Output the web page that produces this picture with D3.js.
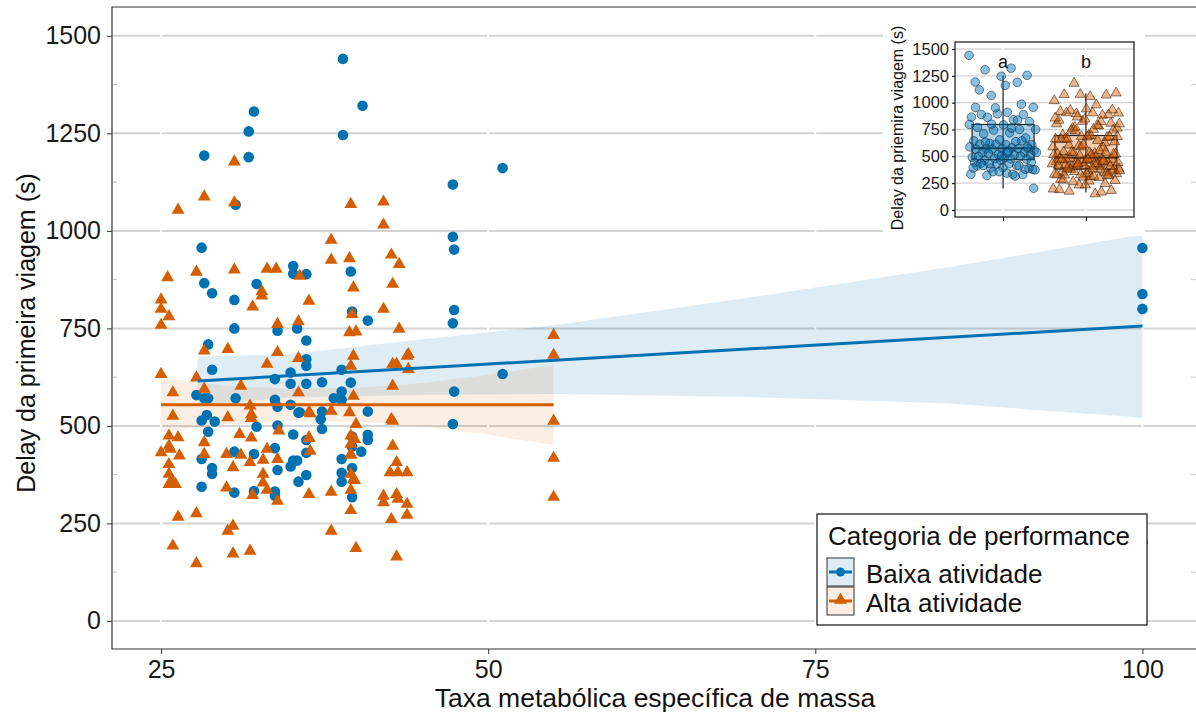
<!DOCTYPE html>
<html><head><meta charset="utf-8">
<script src="https://cdn.jsdelivr.net/npm/d3@7"></script>
<style>body{margin:0;background:#fff}svg{display:block;font-family:"Liberation Sans",Arial,sans-serif}</style>
</head><body><svg id="c" width="1196" height="713"></svg>
<script>
// ---------- data ----------
const xTicks = [25, 50, 75, 100];
const yTicks = [0, 250, 500, 750, 1000, 1250, 1500];
const yMinor = [125, 375, 625, 875, 1125, 1375];
const insetTicks = [0, 250, 500, 750, 1000, 1250, 1500];
const categories = ["Baixa atividade", "Alta atividade"];
const insetCats = ["Baixa", "Alta"];

const baixaX = [38.9,40.4,32.1,31.7,38.9,28.3,31.7,30.7,28.1,35.1,35.1,36.1,39.5,28.3,28.9,32.3,30.6,39.6,40.8,30.6,33.9,35.4,36.1,28.6,36.1,36.1,28.9,34.9,33.7,34.9,36.1,37.3,38.8,39.5,38.8,27.7,28.3,28.6,30.7,33.7,38.2,38.8,34.9,33.9,35.5,37.3,37.2,37.3,28.1,28.5,29.1,28.6,32.3,33.9,35.1,40.8,40.8,40.8,39.6,36.1,33.7,28.1,28.9,28.9,28.1,30.6,30.6,32.1,32.1,33.7,33.7,33.9,34.9,35.1,35.4,35.5,36.1,36.1,38.8,38.8,38.8,39.6,39.6,40.3,39.6,51.1,47.3,47.3,47.4,47.4,47.3,51.1,47.4,47.3,100,100,100,100,35.6];
const baixaY = [1441,1321,1306,1255,1246,1193,1189,1067,957,910,890,889,896,866,840,864,823,793,770,750,744,750,719,709,671,654,644,637,620,608,608,612,644,611,588,579,571,571,571,567,571,567,554,549,534,537,517,492,514,528,511,485,498,501,478,537,477,464,473,464,443,415,392,377,344,434,329,428,333,332,321,387,396,411,411,357,374,431,415,380,357,392,317,434,447,1161,1119,985,952,797,763,633,588,505,956,838,800,203,535];

const altaX = [30.6,28.3,26.3,30.6,39.5,42,42,38,38,39.4,42.6,43.2,25.5,27.7,30.6,33.1,33.8,35.6,25,25,25.6,25,25,28.3,30.1,27.7,28.3,25.9,25.9,31.1,32,32.7,32.7,36.3,35.5,33.9,33.9,33.1,35.5,35.5,39.7,39.6,39.4,39.9,39.7,39.5,39.7,42.7,42,43.2,42.7,43.8,42.7,30.1,31.8,31.9,31.9,36.4,38,39.4,39.9,42.7,34,31,31.9,28.3,25.6,26.3,25,25.7,39.5,36.3,36.4,33.1,25.6,26.4,25.6,25.6,25.8,25.6,26.1,28.3,30,31.1,30.5,31.8,32.8,33.9,32.8,32.8,33.1,33.9,32,30,36.3,38,39.5,39.5,39.8,39.5,39.5,42.7,43,42.5,43.1,43.8,42,42,43,43.8,42.6,43.8,26.3,27.7,30.5,30.1,25.9,27.7,30.5,31.8,38,39.9,43,55,55,55,55,55,43.9,43,43.9,36.3,42.6,36.3,39.8,39.5,39.5,39.7,43.1];
const altaY = [1180,1090,1056,1075,1071,1077,1018,979,928,932,941,917,883,897,903,905,905,887,826,802,783,761,635,695,699,626,597,588,528,605,808,847,836,823,770,763,691,661,676,588,857,789,742,744,682,656,579,866,802,751,661,682,605,524,554,532,522,534,541,537,507,515,490,481,472,460,477,473,434,443,477,473,438,443,451,426,404,379,362,353,353,430,430,428,396,409,415,417,379,357,338,310,325,344,327,333,430,379,363,338,286,451,409,383,383,383,323,306,327,302,263,274,269,278,246,233,195,150,175,182,233,189,167,735,684,515,420,320,686,661,648,538,519,471,468,456,428,366,315];

// fitted regression lines and confidence bands
const baixaFitX = [27.8, 100];
const baixaFitY = [615, 756];
const baixaBandX = [27.8, 35, 45, 55, 70, 85, 100];
const baixaBandLo = [553, 573, 579, 582, 574, 558, 521];
const baixaBandHi = [677, 685, 722, 758, 829, 906, 991];
const altaFitX = [25, 55];
const altaFitY = [554, 554];
const altaBandX = [25, 30, 35, 40, 45, 50, 55];
const altaBandLo = [485, 505, 513, 510, 498, 477, 451];
const altaBandHi = [623, 603, 595, 598, 610, 631, 657];

// inset box statistics [min, q1, median, q3, max]
const baixaBox = [200, 469, 575, 797, 1250];
const altaBox = [163, 381, 487, 694, 1087];
const insetLetters = ["a", "b"];

// ---------- drawing ----------
const BLUE = "#0072B2", ORANGE = "#D55E00";
const FONT = "Liberation Sans, Arial, sans-serif";
const svg = d3.select("#c");
const x = d3.scaleLinear().domain([21.25, 104.4]).range([112, 1200]);
const y = d3.scaleLinear().domain([-72, 1574]).range([649, 7]);

const gGrid = svg.append("g");
gGrid.selectAll("line.h").data(yTicks).join("line")
  .attr("x1", 112).attr("x2", 1196).attr("y1", d => y(d)).attr("y2", d => y(d))
  .attr("stroke", "#d4d4d4").attr("stroke-width", 2);
gGrid.selectAll("line.mn").data(yMinor).join("line")
  .attr("x1", 113).attr("x2", 117).attr("y1", d => y(d)).attr("y2", d => y(d))
  .attr("stroke", "#bbb").attr("stroke-width", 1);
gGrid.selectAll("line.mr").data(yMinor).join("line")
  .attr("x1", 1191).attr("x2", 1196).attr("y1", d => y(d)).attr("y2", d => y(d))
  .attr("stroke", "#ccc").attr("stroke-width", 1);

// panel border (left, top, bottom)
svg.append("path").attr("d", `M1196,${y.range()[1]}H112V${y.range()[0]}H1196`)
  .attr("fill", "none").attr("stroke", "#333").attr("stroke-width", 1.2);
// white vertical major grid lines
gGrid.selectAll("line.v").data(xTicks).join("line")
  .attr("x1", d => x(d)).attr("x2", d => x(d)).attr("y1", 6).attr("y2", 650)
  .attr("stroke", "#fff").attr("stroke-width", 2);

// ribbons
function band(X, lo, hi) {
  return d3.area().x((d, i) => x(X[i])).y0((d, i) => y(lo[i])).y1((d, i) => y(hi[i]))(X);
}
svg.append("path").attr("d", band(baixaBandX, baixaBandLo, baixaBandHi)).attr("fill", BLUE).attr("fill-opacity", 0.13);
svg.append("path").attr("d", band(altaBandX, altaBandLo, altaBandHi)).attr("fill", ORANGE).attr("fill-opacity", 0.1);

// points
const tri = d3.symbol().type(d3.symbolTriangle).size(72);
svg.append("g").selectAll("circle").data(baixaX).join("circle")
  .attr("cx", d => x(d)).attr("cy", (d, i) => y(baixaY[i])).attr("r", 5.3).attr("fill", BLUE);
svg.append("g").selectAll("path").data(altaX).join("path")
  .attr("d", tri).attr("transform", (d, i) => `translate(${x(d)},${y(altaY[i]) + 1})`).attr("fill", ORANGE);

// fit lines
const ln = d3.line();
svg.append("path").attr("d", ln(baixaFitX.map((v, i) => [x(v), y(baixaFitY[i])])))
  .attr("stroke", BLUE).attr("stroke-width", 3).attr("fill", "none");
svg.append("path").attr("d", ln(altaFitX.map((v, i) => [x(v), y(altaFitY[i])])))
  .attr("stroke", ORANGE).attr("stroke-width", 3).attr("fill", "none");

// axes
const fmt = d3.format("d");
const xAx = svg.append("g").attr("transform", `translate(0,649)`)
  .call(d3.axisBottom(x).tickValues(xTicks).tickFormat(fmt).tickSize(5).tickPadding(6));
const yAx = svg.append("g").attr("transform", `translate(112,0)`)
  .call(d3.axisLeft(y).tickValues(yTicks).tickFormat(fmt).tickSize(5).tickPadding(6));
[xAx, yAx].forEach(a => {
  a.select(".domain").remove();
  a.selectAll(".tick line").attr("stroke", "#333");
  a.selectAll("text").attr("font-size", 25).attr("fill", "#1a1a1a").attr("font-family", FONT);
});

svg.append("text").attr("x", 655).attr("y", 707).attr("text-anchor", "middle")
  .attr("font-size", 26.5).attr("fill", "#111").text("Taxa metabólica específica de massa");
svg.append("text").attr("transform", "translate(35,333) rotate(-90)").attr("text-anchor", "middle")
  .attr("font-size", 25).attr("fill", "#111").text("Delay da primeira viagem (s)");

// legend
const lg = svg.append("g");
lg.append("rect").attr("x", 817).attr("y", 514).attr("width", 330).attr("height", 111)
  .attr("fill", "#fff").attr("stroke", "#111").attr("stroke-width", 1.2);
lg.append("text").attr("x", 828).attr("y", 545).attr("font-size", 26).attr("fill", "#111").text("Categoria de performance");
categories.forEach((c, i) => {
  const ky = 558 + i * 29;
  const col = i === 0 ? BLUE : ORANGE;
  lg.append("rect").attr("x", 827).attr("y", ky).attr("width", 27).attr("height", 28)
    .attr("fill", col).attr("fill-opacity", i === 0 ? 0.13 : 0.1);
  lg.append("rect").attr("x", 827).attr("y", ky).attr("width", 27).attr("height", 28)
    .attr("fill", "none").attr("stroke", "#333").attr("stroke-width", 1);
  lg.append("line").attr("x1", 829).attr("x2", 852).attr("y1", ky + 14).attr("y2", ky + 14)
    .attr("stroke", col).attr("stroke-width", 3);
  if (i === 0) lg.append("circle").attr("cx", 840.5).attr("cy", ky + 14).attr("r", 4.5).attr("fill", col);
  else lg.append("path").attr("d", tri).attr("transform", `translate(840.5,${ky + 13})`).attr("fill", col);
  lg.append("text").attr("x", 866).attr("y", ky + 25).attr("font-size", 26).attr("fill", "#111").text(c);
});

// ---------- inset ----------
const ig = svg.append("g");
ig.append("rect").attr("x", 883).attr("y", 12).attr("width", 262).attr("height", 224).attr("fill", "#fff");
const yi = d3.scaleLinear().domain([-65, 1565]).range([217, 42]);
const xi = d3.scalePoint().domain(insetCats).range([955, 1134]).padding(0.58);
ig.selectAll("line.h").data(insetTicks).join("line")
  .attr("x1", 955).attr("x2", 1134).attr("y1", d => yi(d)).attr("y2", d => yi(d))
  .attr("stroke", "#d4d4d4").attr("stroke-width", 1.3);
ig.selectAll("line.v").data(insetCats).join("line")
  .attr("x1", d => xi(d)).attr("x2", d => xi(d)).attr("y1", 42).attr("y2", 217)
  .attr("stroke", "#fff").attr("stroke-width", 1.5);

function boxplot(cat, s, col, op) {
  const cx = xi(cat), hw = 31;
  ig.append("line").attr("x1", cx).attr("x2", cx).attr("y1", yi(s[0])).attr("y2", yi(s[4])).attr("stroke", "#222").attr("stroke-width", 1.2);
  ig.append("rect").attr("x", cx - hw).attr("width", 2 * hw).attr("y", yi(s[3])).attr("height", yi(s[1]) - yi(s[3]))
    .attr("fill", col).attr("fill-opacity", op).attr("stroke", "#222").attr("stroke-width", 1.2);
  ig.append("line").attr("x1", cx - hw).attr("x2", cx + hw).attr("y1", yi(s[2])).attr("y2", yi(s[2])).attr("stroke", "#222").attr("stroke-width", 2);
}
boxplot("Baixa", baixaBox, BLUE, 0.3);
boxplot("Alta", altaBox, ORANGE, 0.3);

// jittered points (deterministic spread)
const jit = i => (((i * 0.6180339887) % 1) - 0.5) * 68;
ig.append("g").selectAll("circle").data(baixaY).join("circle")
  .attr("cx", (d, i) => xi("Baixa") + jit(i)).attr("cy", d => yi(d)).attr("r", 4.3)
  .attr("fill", BLUE).attr("fill-opacity", 0.45).attr("stroke", "#0a2a40").attr("stroke-opacity", 0.7).attr("stroke-width", 0.8);
const triS = d3.symbol().type(d3.symbolTriangle).size(45);
ig.append("g").selectAll("path").data(altaY).join("path")
  .attr("d", triS).attr("transform", (d, i) => `translate(${xi("Alta") + jit(i + 7)},${yi(d)})`)
  .attr("fill", ORANGE).attr("fill-opacity", 0.45).attr("stroke", "#3a1a00").attr("stroke-opacity", 0.7).attr("stroke-width", 0.8);

ig.append("rect").attr("x", 955).attr("y", 42).attr("width", 179).attr("height", 175)
  .attr("fill", "none").attr("stroke", "#111").attr("stroke-width", 1.2);
const iy = ig.append("g").attr("transform", "translate(955,0)")
  .call(d3.axisLeft(yi).tickValues(insetTicks).tickFormat(fmt).tickSize(3).tickPadding(3));
iy.select(".domain").remove();
iy.selectAll("text").attr("font-size", 16.5).attr("fill", "#1a1a1a").attr("font-family", FONT);
const ix = ig.append("g").attr("transform", "translate(0,217)")
  .call(d3.axisBottom(xi).tickSize(4).tickFormat(""));
ix.select(".domain").remove();
ig.append("text").attr("transform", "translate(903,128) rotate(-90)").attr("text-anchor", "middle")
  .attr("font-size", 16).attr("fill", "#111").text("Delay da priemira viagem (s)");
insetCats.forEach((c, i) => {
  ig.append("text").attr("x", xi(c)).attr("y", 68).attr("text-anchor", "middle")
    .attr("font-size", 18).attr("fill", "#111").text(insetLetters[i]);
});
</script></body></html>
